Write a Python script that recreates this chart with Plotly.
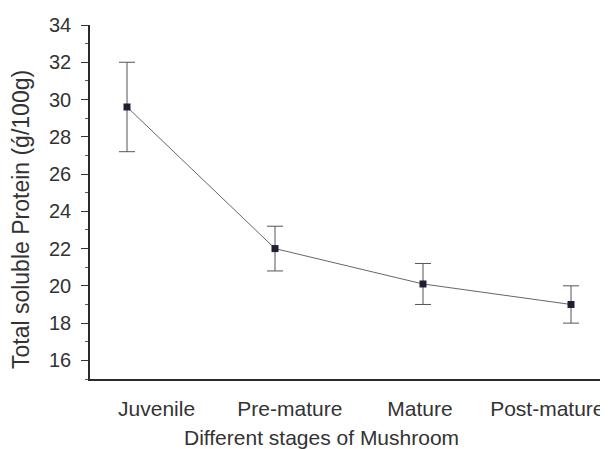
import plotly.graph_objects as go

stages = ["Juvenile", "Pre-mature", "Mature", "Post-mature"]
protein = [29.6, 22.0, 20.1, 19.0]
protein_err = [2.4, 1.2, 1.1, 1.0]
y_ticks = [16, 18, 20, 22, 24, 26, 28, 30, 32, 34]

# layout-only offsets of the category labels relative to the points
label_shift = [0.2, 0.1, -0.02, -0.16]

x_idx = list(range(len(stages)))
font_family = "Liberation Sans, Arial, Helvetica, sans-serif"
text_color = "#333333"

fig = go.Figure()
fig.add_trace(go.Scatter(
    x=x_idx, y=protein,
    mode="lines+markers",
    line=dict(color="#666666", width=1),
    marker=dict(symbol="square", size=7, color="#1f1f33"),
    error_y=dict(type="data", array=protein_err, visible=True,
                 color="#555555", thickness=1, width=8),
    showlegend=False,
))

# page body has an 8px margin, so the figure is sized/margined to compensate
fig.update_layout(
    width=600, height=441,
    margin=dict(l=82, r=0, t=17, b=70),
    paper_bgcolor="white", plot_bgcolor="white",
    font=dict(family=font_family, color=text_color),
    xaxis=dict(
        range=[-0.25, 3.25],
        tickvals=[i + s for i, s in zip(x_idx, label_shift)],
        ticktext=stages,
        ticks="outside", ticklen=10, tickcolor="rgba(0,0,0,0)",
        tickfont=dict(size=21, color=text_color),
        showgrid=False, zeroline=False,
        showline=True, linecolor="#2a2a2a", linewidth=2,
    ),
    yaxis=dict(
        range=[15, 34],
        tickvals=y_ticks,
        ticks="outside", ticklen=7, tickwidth=1, tickcolor="#333333",
        ticklabelstandoff=6,
        minor=dict(ticks="outside", ticklen=3, dtick=1, tickcolor="#555555", showgrid=False),
        tickfont=dict(size=20, color=text_color),
        showgrid=False, zeroline=False,
        showline=True, linecolor="#2a2a2a", linewidth=1.5,
    ),
    annotations=[
        dict(text="Different stages of Mushroom", xref="paper", yref="paper",
             x=0.446, y=0, yshift=-58, xanchor="center", yanchor="middle",
             showarrow=False, font=dict(size=21, color=text_color)),
        dict(text="Total soluble Protein (ǵ/100g)", xref="paper", yref="paper",
             x=0, xshift=-69, y=0.449, textangle=-90, xanchor="center", yanchor="middle",
             showarrow=False, font=dict(size=23, color=text_color)),
    ],
)

fig.write_html("out.html")
